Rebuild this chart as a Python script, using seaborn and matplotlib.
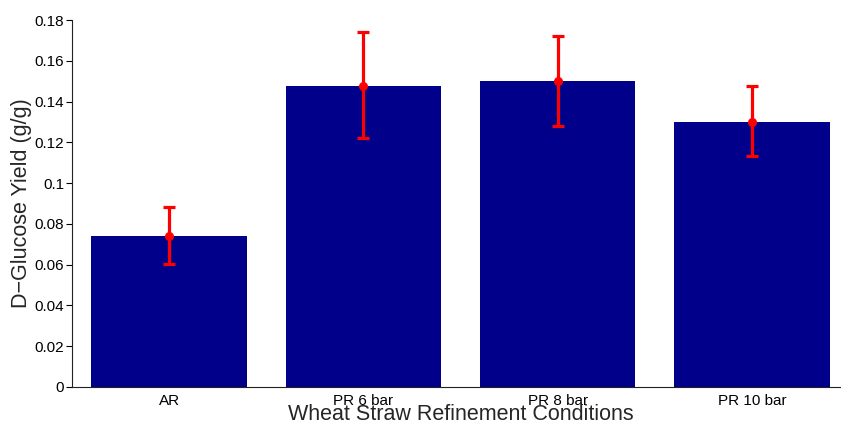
import matplotlib
matplotlib.use("Agg")
import matplotlib.pyplot as plt
import seaborn as sns
import pandas as pd
import numpy as np

# Glucose yield per wheat straw refinement condition
conditions = ["AR", "PR 6 bar", "PR 8 bar", "PR 10 bar"]
yield_mean = [0.0741, 0.1478, 0.1501, 0.1301]
yield_low = [0.0602, 0.1220, 0.1280, 0.1131]
yield_high = [0.0884, 0.1739, 0.1721, 0.1476]
y_ticks = [0, 0.02, 0.04, 0.06, 0.08, 0.1, 0.12, 0.14, 0.16, 0.18]
y_tick_labels = ["0", "0.02", "0.04", "0.06", "0.08", "0.1", "0.12", "0.14", "0.16", "0.18"]

sns.set_style("ticks")
plt.rcParams["font.family"] = ["Liberation Sans", "DejaVu Sans"]

df = pd.DataFrame({"condition": conditions, "glucose": yield_mean})

fig = plt.figure(figsize=(8.41, 4.25), dpi=100)
ax = fig.add_axes([72 / 841, 1 - 387 / 425, 777 / 841, 367 / 425])

sns.barplot(data=df, x="condition", y="glucose", color="#00008B", saturation=1,
            width=0.8, edgecolor="#00008B", linewidth=0, ax=ax)

pos = np.arange(len(conditions))
mean = np.array(yield_mean)
err = np.vstack([mean - np.array(yield_low), np.array(yield_high) - mean])
ax.errorbar(pos, mean, yerr=err, fmt="o", color="red", ecolor="red",
            elinewidth=2.3, capsize=4.5, capthick=2.3, markersize=5.5, zorder=5)

ax.set_xlim(-0.5, 3.5)
ax.set_ylim(0, 0.18)
ax.set_yticks(y_ticks)
ax.set_yticklabels(y_tick_labels)
ax.tick_params(axis="y", direction="out", length=4.5, width=0.8, pad=1, labelsize=11, colors="black")
ax.tick_params(axis="x", length=0, pad=5, labelsize=11, colors="black")

for side in ["top", "right"]:
    ax.spines[side].set_visible(False)
for side in ["left", "bottom"]:
    ax.spines[side].set_color("#222222")
    ax.spines[side].set_linewidth(0.8)

ax.set_xlabel("Wheat Straw Refinement Conditions", fontsize=15.5, labelpad=-3)
ax.set_ylabel("D\u2212Glucose Yield (g/g)", fontsize=15.5, labelpad=2)

fig.savefig("out.png", dpi=100)
